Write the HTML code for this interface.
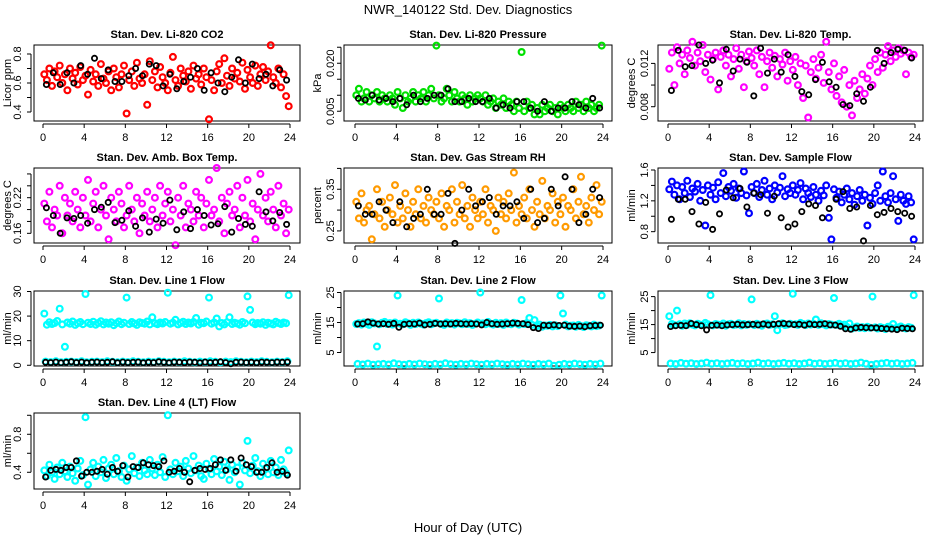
<!DOCTYPE html>
<html><head><meta charset="utf-8"><title>NWR_140122 Std. Dev. Diagnostics</title>
<style>body{margin:0;background:#fff}svg{display:block;font-family:"Liberation Sans",sans-serif}</style></head>
<body>
<svg id="chart" width="936" height="540" viewBox="0 0 936 540">
<text x="468" y="14" text-anchor="middle" font-size="13">NWR_140122  Std. Dev. Diagnostics</text>
<text x="468" y="532" text-anchor="middle" font-size="13">Hour of Day (UTC)</text>
</svg>
<script>
const xTicks=[0,4,8,12,16,20,24];
const co2=[0.66,0.62,0.70,0.58,0.68,0.64,0.72,0.60,0.66,0.55,0.70,0.63,0.67,0.59,0.71,0.62,0.65,0.52,0.69,0.61,0.66,0.58,0.73,0.63,0.60,0.68,0.55,0.70,0.64,0.57,0.66,0.72,0.39,0.62,0.68,0.58,0.74,0.63,0.60,0.66,0.45,0.75,0.62,0.68,0.57,0.71,0.64,0.60,0.55,0.67,0.78,0.62,0.58,0.70,0.65,0.61,0.68,0.56,0.72,0.63,0.66,0.59,0.70,0.64,0.35,0.62,0.55,0.68,0.73,0.60,0.77,0.65,0.58,0.70,0.63,0.67,0.61,0.74,0.56,0.69,0.64,0.60,0.72,0.58,0.66,0.71,0.62,0.68,0.86,0.64,0.60,0.70,0.57,0.66,0.51,0.44];
const co2Black=[0.59,0.67,0.59,0.67,0.60,0.72,0.66,0.77,0.63,0.69,0.61,0.61,0.65,0.70,0.65,0.73,0.72,0.58,0.66,0.56,0.61,0.64,0.70,0.55,0.67,0.60,0.54,0.64,0.76,0.60,0.73,0.63,0.66,0.58,0.69,0.62];
const pressure=[0.010,0.012,0.008,0.009,0.011,0.008,0.010,0.009,0.011,0.008,0.010,0.009,0.008,0.010,0.009,0.007,0.011,0.009,0.006,0.010,0.008,0.009,0.011,0.008,0.010,0.009,0.011,0.008,0.010,0.012,0.009,0.0255,0.010,0.008,0.009,0.012,0.010,0.008,0.011,0.009,0.008,0.010,0.009,0.007,0.010,0.008,0.009,0.010,0.009,0.008,0.010,0.007,0.008,0.009,0.006,0.008,0.007,0.009,0.006,0.008,0.007,0.005,0.008,0.006,0.0235,0.005,0.008,0.006,0.007,0.004,0.006,0.004,0.007,0.005,0.006,0.007,0.005,0.006,0.004,0.007,0.006,0.005,0.007,0.006,0.005,0.008,0.006,0.007,0.005,0.008,0.006,0.007,0.005,0.006,0.007,0.0255];
const pressureBlack=[0.009,0.0085,0.010,0.0085,0.009,0.008,0.009,0.007,0.010,0.008,0.009,0.010,0.010,0.012,0.008,0.008,0.009,0.008,0.008,0.009,0.006,0.007,0.006,0.008,0.008,0.006,0.005,0.008,0.005,0.006,0.006,0.008,0.007,0.006,0.009,0.006];
const temp=[0.0115,0.013,0.010,0.0135,0.012,0.0128,0.011,0.0132,0.0125,0.014,0.0118,0.013,0.0122,0.0137,0.0112,0.0128,0.0105,0.0124,0.0130,0.0096,0.0126,0.0132,0.0118,0.0128,0.0108,0.0124,0.0134,0.0115,0.0128,0.0098,0.0122,0.0131,0.0125,0.0118,0.0132,0.0110,0.0126,0.0098,0.0122,0.0130,0.0116,0.0127,0.0108,0.0124,0.0119,0.0130,0.0104,0.0122,0.0114,0.0126,0.0100,0.0120,0.0088,0.0118,0.0070,0.0112,0.0124,0.0106,0.0116,0.0128,0.0102,0.0140,0.0112,0.0096,0.0120,0.0090,0.0108,0.0084,0.0114,0.0080,0.0100,0.0072,0.0104,0.0088,0.0096,0.0110,0.0092,0.0106,0.0118,0.0100,0.0124,0.0112,0.0130,0.0116,0.0128,0.0136,0.0122,0.0132,0.0126,0.0134,0.0129,0.0132,0.0110,0.0130,0.0126,0.0128];
const tempBlack=[0.0095,0.0132,0.0117,0.0118,0.0137,0.0120,0.0123,0.0102,0.0133,0.0113,0.0124,0.0121,0.0090,0.0134,0.0111,0.0124,0.0112,0.0128,0.0108,0.0094,0.0091,0.0105,0.0121,0.0103,0.0098,0.0082,0.0081,0.0092,0.0085,0.0098,0.0132,0.0120,0.0130,0.0133,0.0132,0.0125];
const ambTemp=[0.21,0.18,0.23,0.17,0.20,0.19,0.24,0.16,0.22,0.19,0.21,0.18,0.23,0.20,0.17,0.22,0.19,0.25,0.18,0.21,0.23,0.17,0.20,0.24,0.19,0.15,0.22,0.20,0.18,0.23,0.21,0.17,0.19,0.24,0.20,0.18,0.22,0.16,0.21,0.19,0.23,0.18,0.20,0.22,0.17,0.24,0.19,0.21,0.23,0.18,0.20,0.14,0.22,0.19,0.24,0.17,0.21,0.20,0.18,0.23,0.19,0.22,0.17,0.21,0.25,0.19,0.20,0.27,0.18,0.22,0.16,0.21,0.23,0.19,0.20,0.24,0.17,0.22,0.19,0.25,0.18,0.21,0.15,0.20,0.26,0.19,0.22,0.18,0.23,0.20,0.17,0.24,0.19,0.21,0.16,0.20];
const ambBlack=[0.203,0.190,0.160,0.186,0.185,0.190,0.177,0.200,0.204,0.212,0.178,0.182,0.198,0.172,0.186,0.162,0.184,0.177,0.216,0.166,0.196,0.168,0.200,0.190,0.174,0.176,0.205,0.162,0.185,0.175,0.172,0.230,0.196,0.181,0.195,0.175];
const rh=[0.32,0.28,0.34,0.27,0.30,0.31,0.23,0.29,0.35,0.28,0.32,0.26,0.30,0.33,0.29,0.36,0.27,0.31,0.28,0.34,0.30,0.26,0.32,0.29,0.35,0.28,0.31,0.27,0.33,0.30,0.29,0.32,0.28,0.34,0.26,0.31,0.30,0.35,0.27,0.32,0.29,0.36,0.28,0.31,0.26,0.33,0.30,0.28,0.32,0.29,0.35,0.27,0.31,0.30,0.25,0.33,0.29,0.32,0.28,0.34,0.30,0.39,0.27,0.31,0.29,0.33,0.28,0.35,0.30,0.26,0.32,0.29,0.37,0.28,0.31,0.30,0.34,0.27,0.32,0.29,0.33,0.26,0.31,0.30,0.35,0.28,0.32,0.38,0.29,0.31,0.27,0.33,0.30,0.36,0.29,0.32];
const rhBlack=[0.31,0.29,0.29,0.32,0.30,0.27,0.32,0.26,0.28,0.29,0.35,0.29,0.29,0.34,0.22,0.30,0.35,0.31,0.32,0.33,0.29,0.31,0.31,0.32,0.28,0.35,0.27,0.28,0.35,0.31,0.38,0.35,0.27,0.29,0.35,0.33];
const flow=[1.35,1.45,1.28,1.40,1.22,1.38,1.30,1.46,1.25,1.36,1.32,1.42,1.20,1.34,0.88,1.40,1.28,1.37,1.22,1.44,1.30,1.56,1.26,1.38,1.33,1.42,1.24,1.36,1.30,1.58,1.27,1.04,1.38,1.30,1.42,1.25,1.34,1.46,1.28,1.36,1.22,1.40,1.31,1.37,1.52,1.26,1.35,1.30,1.40,1.28,1.34,1.43,1.22,1.36,1.30,1.25,1.38,1.28,1.20,1.33,1.27,1.40,0.98,0.70,1.35,1.24,1.32,1.18,1.28,1.36,1.22,1.30,1.15,1.26,1.34,1.20,1.28,0.88,1.24,1.16,1.30,1.40,1.20,1.58,1.26,1.18,1.30,1.52,1.22,0.94,1.28,1.20,1.16,1.26,1.18,0.70];
const flowBlack=[0.96,1.22,1.22,1.06,0.90,1.18,0.83,1.03,1.34,1.24,1.36,1.12,1.30,1.28,1.04,1.26,0.98,0.86,0.90,1.06,1.16,1.14,0.98,1.10,1.22,1.32,1.10,1.12,0.68,1.14,1.02,1.05,1.10,1.06,1.04,1.00];
const line1High=[21,16.5,17.5,16.8,17.2,18,23,16.6,7.5,17.4,16.9,17.8,16.4,17.1,17.6,16.7,29,17.3,16.8,17.7,16.5,17.2,17.9,16.6,17.4,16.9,17.5,16.3,17.1,17.8,16.7,17.3,27.5,16.8,17.6,17.0,16.4,17.5,17.2,16.9,17.8,16.6,19.5,17.1,16.7,17.4,17.0,17.6,29.5,16.9,17.3,18.5,16.6,17.2,17.7,16.8,17.4,17.0,17.6,19.2,16.5,17.3,17.1,17.8,27.5,16.9,17.4,19,15.8,17.2,16.6,17.5,19.5,16.8,17.3,17.0,16.5,17.6,17.1,28,22.5,17.4,16.7,17.2,16.9,17.5,16.4,17.3,17.0,16.6,17.7,17.2,16.8,17.4,17.1,28.5];
const line1Low=[1.5,1.3,1.6,1.2,1.4,1.5,1.3,1.6,1.2,1.4,1.5,1.3,1.6,1.4,1.2,1.5,1.3,1.6,1.4,1.2,1.5,1.3,1.6,1.4,1.2,1.5,1.3,1.6,1.4,1.2,1.5,1.3,1.6,1.4,1.2,1.5,1.3,1.6,1.4,1.2,1.5,1.3,1.6,1.4,1.2,1.5,1.3,1.6];
const line1Black=[1.2,1.1,1.3,1.0,1.2,1.4,1.1,1.3,1.0,1.2,1.3,1.1,1.2,1.4,1.0,1.3,1.1,1.2,1.3,1.0,1.2,1.1,1.4,1.2,1.0,1.3,1.2,1.1,1.3,1.2,1.0,1.3,1.1,1.2,1.4,1.1,0.6,1.2,1.3,1.1,1.2,1.0,1.3,1.2,1.1,1.3,1.2,1.3];
const line2High=[14.5,14.8,14.3,15.0,14.6,14.2,15.1,14.7,7,14.4,14.9,15.2,14.5,14.8,14.3,15.0,24,14.6,14.4,15.1,14.7,14.2,14.9,14.5,15.0,14.6,14.3,14.8,15.1,14.4,14.7,14.9,23,14.5,14.2,15.0,14.6,14.8,14.3,14.9,14.7,14.4,15.1,14.5,14.8,14.2,14.6,15.0,25,14.7,14.4,15.2,14.6,14.3,14.9,14.5,14.8,14.2,15.0,14.6,14.4,14.9,14.7,14.3,22.5,14.5,14.8,16.5,14.2,15.8,13.8,14.3,13.6,14.0,13.9,14.2,13.7,14.1,13.8,24,18,14.3,13.7,13.9,14.0,13.6,14.2,13.8,13.5,14.1,13.9,13.7,14.3,13.8,14.0,24];
const line2Low=[1.2,1.0,1.3,0.9,1.1,1.2,1.0,1.4,1.1,0.9,1.2,1.0,1.3,1.1,0.9,1.2,1.0,1.4,1.1,0.9,1.2,1.0,1.3,1.1,0.9,1.2,1.0,1.3,1.1,0.9,1.2,1.0,1.3,1.1,0.9,1.2,1.0,1.3,0.6,0.9,1.2,1.0,1.3,1.1,0.9,1.2,1.0,1.3];
const line2Black=[14.5,14.6,15.2,14.8,14.5,14.6,14.4,14.7,13.4,14.4,14.6,14.5,14.8,14.2,14.4,14.7,14.5,14.6,14.5,14.7,14.6,14.5,14.6,14.5,14.2,15.0,14.6,14.4,14.5,14.6,14.8,14.7,14.6,14.3,13.3,13.0,14.1,14.0,14.2,14.0,14.1,13.8,13.7,13.8,13.6,13.9,14.0,14.1];
const line3High=[18,15.2,14.8,20,15.1,14.6,15.4,14.9,15.5,15.0,14.7,15.3,15.0,14.8,15.6,15.1,25.5,14.7,15.2,15.0,14.9,15.4,14.6,15.1,15.3,14.8,15.0,15.5,14.7,15.2,14.9,15.1,24,14.8,15.3,15.0,14.6,15.2,15.4,14.9,15.1,18,13,15.2,15.5,14.8,15.0,15.3,26,15.1,14.9,15.6,15.2,14.8,15.4,15.0,15.3,16.8,14.9,15.5,15.1,14.7,15.2,15.0,24.5,14.9,15.3,14.6,15.0,14.2,15.4,13.6,14.0,14.3,13.8,14.1,13.7,14.2,13.9,25,14.0,13.6,14.1,13.8,13.4,14.2,13.9,15.2,13.7,14.0,14.3,13.8,13.6,14.1,13.9,25.5];
const line3Low=[1.1,0.9,1.3,1.0,1.2,0.9,1.1,1.4,1.0,1.2,0.9,1.1,1.3,1.0,1.2,0.9,1.1,1.4,1.0,1.2,0.9,1.1,1.3,1.0,1.2,0.9,1.1,1.4,1.0,1.2,0.9,1.1,1.3,1.0,1.2,0.9,1.1,1.4,1.0,0.6,0.9,1.1,1.3,1.0,1.2,0.9,1.1,1.3];
const line3Black=[14.3,14.6,14.7,14.6,15.4,15.0,14.6,13.1,14.7,14.8,14.6,14.9,15.0,15.1,14.9,15.0,15.1,14.9,15.2,14.9,15.1,15.3,15.4,15.2,15.0,15.1,14.8,15.2,15.0,15.1,15.3,14.9,14.8,14.4,13.5,13.3,13.8,14.0,13.9,13.8,13.8,13.6,13.5,13.4,13.2,13.7,13.6,13.5];
const line4=[0.42,0.36,0.48,0.40,0.33,0.45,0.38,0.50,0.41,0.35,0.46,0.39,0.31,0.44,0.52,0.37,0.98,0.27,0.43,0.50,0.36,0.46,0.40,0.53,0.34,0.44,0.48,0.38,0.55,0.41,0.35,0.47,0.31,0.43,0.57,0.39,0.45,0.36,0.50,0.42,0.38,0.53,0.44,0.37,0.48,0.40,0.56,0.35,1.0,0.43,0.38,0.50,0.41,0.46,0.36,0.52,0.44,0.39,0.57,0.42,0.47,0.36,0.33,0.49,0.43,0.38,0.54,0.41,0.46,0.37,0.51,0.43,0.32,0.48,0.40,0.45,0.27,0.50,0.42,0.73,0.39,0.47,0.55,0.41,0.36,0.49,0.44,0.38,0.52,0.40,0.45,0.37,0.53,0.43,0.39,0.63];
const line4Black=[0.35,0.42,0.43,0.42,0.45,0.45,0.52,0.36,0.40,0.40,0.41,0.43,0.38,0.45,0.41,0.47,0.35,0.46,0.45,0.50,0.48,0.47,0.46,0.52,0.40,0.41,0.44,0.40,0.30,0.42,0.44,0.43,0.44,0.48,0.53,0.42,0.53,0.41,0.55,0.48,0.46,0.40,0.40,0.45,0.50,0.40,0.41,0.37];

const NS='http://www.w3.org/2000/svg';
const svg=document.getElementById('chart');
const cols=[{l:34,r:300,x0:43,x24:290,ty:8,tl:18},{l:344,r:612,x0:355,x24:603,ty:318,tl:331},{l:658,r:923,x0:668,x24:915,ty:632,tl:645}];
const rows=[{t:45,b:121},{t:168,b:243},{t:291,b:366},{t:413,b:489}];
const panels=[
 {n:'co2',title:'Stan. Dev. Li-820 CO2',yl:'Licor ppm',c:0,r:0,ymin:0.338,ymax:0.862,ticks:[0.4,0.5,0.6,0.7,0.8],labels:['0.4','','0.6','','0.8'],series:[[co2,'#ff0000'],[co2Black,'#000000']]},
 {n:'pressure',title:'Stan. Dev. Li-820 Pressure',yl:'kPa',c:1,r:0,ymin:0.00195,ymax:0.0257,ticks:[0.005,0.010,0.015,0.020,0.025],labels:['0.005','','','0.020',''],series:[[pressure,'#00e000'],[pressureBlack,'#000000']]},
 {n:'temp',title:'Stan. Dev. Li-820 Temp.',yl:'degrees C',c:2,r:0,ymin:0.00668,ymax:0.0137,ticks:[0.008,0.010,0.012],labels:['0.008','','0.012'],series:[[temp,'#ff00ff'],[tempBlack,'#000000']]},
 {n:'amb-temp',title:'Stan. Dev. Amb. Box Temp.',yl:'degrees C',c:0,r:1,ymin:0.1437,ymax:0.270,ticks:[0.16,0.18,0.20,0.22,0.24,0.26],labels:['0.16','','','0.22','',''],series:[[ambTemp,'#ff00ff'],[ambBlack,'#000000']]},
 {n:'rh',title:'Stan. Dev. Gas Stream RH',yl:'percent',c:1,r:1,ymin:0.221,ymax:0.401,ticks:[0.25,0.30,0.35,0.40],labels:['0.25','','0.35',''],series:[[rh,'#ff9a00'],[rhBlack,'#000000']]},
 {n:'sample-flow',title:'Stan. Dev. Sample Flow',yl:'ml/min',c:2,r:1,ymin:0.653,ymax:1.626,ticks:[0.8,1.0,1.2,1.4,1.6],labels:['0.8','','1.2','','1.6'],series:[[flow,'#0000ff'],[flowBlack,'#000000']]},
 {n:'line1',title:'Stan. Dev. Line 1 Flow',yl:'ml/min',c:0,r:2,ymin:-0.3,ymax:30.2,ticks:[0,10,20,30],labels:['0','10','20','30'],series:[[line1High,'#00ffff'],[line1Low,'#00ffff'],[line1Black,'#000000']]},
 {n:'line2',title:'Stan. Dev. Line 2 Flow',yl:'ml/min',c:1,r:2,ymin:0.5,ymax:25.5,ticks:[5,10,15,20,25],labels:['5','','15','','25'],series:[[line2High,'#00ffff'],[line2Low,'#00ffff'],[line2Black,'#000000']]},
 {n:'line3',title:'Stan. Dev. Line 3 Flow',yl:'ml/min',c:2,r:2,ymin:0.2,ymax:27,ticks:[5,10,15,20,25],labels:['5','','15','','25'],series:[[line3High,'#00ffff'],[line3Low,'#00ffff'],[line3Black,'#000000']]},
 {n:'line4',title:'Stan. Dev. Line 4 (LT) Flow',yl:'ml/min',c:0,r:3,ymin:0.224,ymax:1.024,ticks:[0.4,0.6,0.8,1.0],labels:['0.4','','0.8',''],series:[[line4,'#00ffff'],[line4Black,'#000000']]}
];
function mk(tag,attrs,parent){const e=document.createElementNS(NS,tag);for(const k in attrs)e.setAttribute(k,attrs[k]);(parent||svg).appendChild(e);return e;}
panels.forEach(p=>{
 const C=cols[p.c],R=rows[p.r];
 const g=mk('g',{});
 
 
 const xs=h=>C.x0+(C.x24-C.x0)*h/24;
 const ys=v=>R.b-(v-p.ymin)/(p.ymax-p.ymin)*(R.b-R.t);
 const t=mk('text',{x:(C.l+C.r)/2,y:R.t-7,'text-anchor':'middle','font-size':'11','font-weight':'bold'},g);t.textContent=p.title;
 
 
 const box=mk('rect',{x:C.l,y:R.t,width:C.r-C.l,height:R.b-R.t,fill:'none',stroke:'#000','stroke-width':1},g);
 
 
 p.series.forEach(([arr,col])=>{
  const isB=col==='#000000';
  const sg=mk('g',{fill:'none',stroke:col,'stroke-width':isB?1.8:2.2},g);
  
  
  arr.forEach((v,i)=>{const h=(i+0.5)*24/arr.length;
   const c=mk('circle',{cx:xs(h).toFixed(1),cy:ys(v).toFixed(1),r:isB?2.6:2.9},sg);
   
   });
 });
 const xa=mk('g',{stroke:'#000','stroke-width':1},g);
 
 
 mk('line',{x1:xs(0),x2:xs(24),y1:R.b+3,y2:R.b+3},xa);
 xTicks.forEach(h=>{mk('line',{x1:xs(h),x2:xs(h),y1:R.b+3,y2:R.b+7},xa);
  const tx=mk('text',{x:xs(h),y:R.b+20,'text-anchor':'middle','font-size':'11',stroke:'none',fill:'#000'},xa);tx.textContent=h;
  
  });
 const ya=mk('g',{stroke:'#000','stroke-width':1},g);
 
 
 mk('line',{x1:C.l-3,x2:C.l-3,y1:ys(p.ticks[0]),y2:ys(p.ticks[p.ticks.length-1])},ya);
 p.ticks.forEach((v,i)=>{const y=ys(v);mk('line',{x1:C.l-7,x2:C.l-3,y1:y,y2:y},ya);
  if(p.labels[i]){const tx=mk('text',{x:C.tl,y:y,'text-anchor':'middle','font-size':'11',stroke:'none',fill:'#000',transform:`rotate(-90 ${C.tl} ${y})`,'dominant-baseline':'central'},ya);tx.textContent=p.labels[i];
  
  }});
 const cy=(R.t+R.b)/2;
 const yt=mk('text',{x:C.ty,y:cy,'text-anchor':'middle','font-size':'11',transform:`rotate(-90 ${C.ty} ${cy})`,'dominant-baseline':'central'},g);yt.textContent=p.yl;
 
 
});
</script>
</body></html>
